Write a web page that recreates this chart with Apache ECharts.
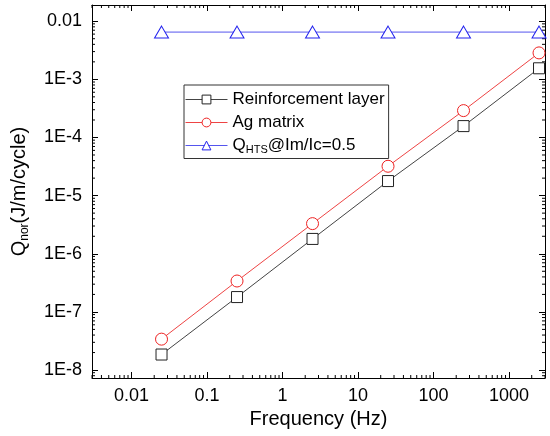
<!DOCTYPE html>
<html><head><meta charset="utf-8">
<script src="https://cdn.jsdelivr.net/npm/echarts@6/dist/echarts.min.js"></script>
<style>html,body{margin:0;padding:0;background:#fff}#c{width:550px;height:436px}</style>
</head><body><div id="c"></div>
<script>
const frequency = [0.025, 0.25, 2.5, 25, 250, 2500];
const reinforcementLayer = [1.85e-8, 1.8e-7, 1.8e-6, 1.78e-5, 1.57e-4, 1.55e-3];
const agMatrix = [3.4e-8, 3.4e-7, 3.3e-6, 3.2e-5, 2.9e-4, 2.85e-3];
const qHTS = [6.5e-3, 6.5e-3, 6.5e-3, 6.5e-3, 6.5e-3, 6.5e-3];
const xTickLabels = ['0.01', '0.1', '1', '10', '100', '1000'];
const yTickLabels = ['1E-8', '1E-7', '1E-6', '1E-5', '1E-4', '1E-3', '0.01'];
const X_MIN = 0.003, X_MAX = 3000, Y_MIN = 7.3e-9, Y_MAX = 0.019;

function minorTicks(lo, hi, d0, d1) {
  const out = [];
  for (let d = d0; d <= d1; d++) for (let k = 2; k <= 9; k++) {
    const v = Number((k * Math.pow(10, d)).toPrecision(6));
    if (v >= lo * 0.999 && v <= hi * 1.001) out.push(v);
  }
  return out;
}
const xMinor = minorTicks(X_MIN, X_MAX, -3, 3);
const yMinor = minorTicks(Y_MIN, Y_MAX, -9, -2);

function isPow10(v) { const l = Math.log10(v); return Math.abs(l - Math.round(l)) < 1e-6; }
function xLabel(v) { if (!isPow10(v)) return ''; const i = Math.round(Math.log10(v)) + 2; return xTickLabels[i] || ''; }
function yLabel(v) { if (!isPow10(v)) return ''; const i = Math.round(Math.log10(v)) + 8; return yTickLabels[i] || ''; }

const font = 'Liberation Sans, Arial, sans-serif';
const chart = echarts.init(document.getElementById('c'));
const tickStyle = { show: true, inside: true, length: 6, lineStyle: { color: '#000', width: 1 } };
const lineStyleAx = { show: true, lineStyle: { color: '#000', width: 1 } };

chart.setOption({
  animation: false,
  backgroundColor: '#fff',
  grid: { left: 92, right: 5, top: 5, bottom: 58 },
  legend: {
    data: ['Reinforcement layer', 'Ag matrix', 'QHTS'],
    orient: 'vertical', left: 184, top: 85,
    borderColor: '#333', borderWidth: 1, padding: [6, 4, 3, 1],
    itemWidth: 42, itemHeight: 11, itemGap: 6,
    itemStyle: { borderWidth: 1 }, lineStyle: { width: 1 },
    textStyle: { fontFamily: font, fontSize: 17, color: '#000',
      rich: { sub: { fontSize: 11, verticalAlign: 'bottom', padding: [9, 0, 0, 0], fontFamily: font, color: '#000' },
              n: { fontSize: 17, fontFamily: font, color: '#000' } } },
    formatter: function (name) { return name === 'QHTS' ? '{n|Q}{sub|HTS}{n|@Im/Ic=0.5}' : name; }
  },
  xAxis: [{
    type: 'log', logBase: 10, min: X_MIN, max: X_MAX, position: 'bottom',
    axisLine: lineStyleAx, axisTick: tickStyle, splitLine: { show: false },
    axisLabel: { formatter: xLabel, fontFamily: font, fontSize: 18, color: '#000', margin: 9 },
    name: 'Frequency (Hz)', nameLocation: 'middle', nameGap: 30,
    nameTextStyle: { fontFamily: font, fontSize: 20, color: '#000' }
  }, {
    type: 'log', logBase: 10, min: X_MIN, max: X_MAX, position: 'top',
    axisLine: lineStyleAx, axisTick: tickStyle, splitLine: { show: false }, axisLabel: { show: false }
  }],
  yAxis: [{
    type: 'log', logBase: 10, min: Y_MIN, max: Y_MAX, position: 'left',
    axisLine: lineStyleAx, axisTick: tickStyle, splitLine: { show: false },
    axisLabel: { formatter: yLabel, fontFamily: font, fontSize: 18, color: '#000', margin: 10 },
    name: '{n|Q}{sub|nor}{n|(J/m/cycle)}', nameLocation: 'middle', nameGap: 61,
    nameTextStyle: { fontFamily: font, fontSize: 20, color: '#000',
      rich: { n: { fontFamily: font, fontSize: 20, color: '#000' },
              sub: { fontFamily: font, fontSize: 12, color: '#000', verticalAlign: 'bottom', padding: [11, 0, 0, 0] } } }
  }, {
    type: 'log', logBase: 10, min: Y_MIN, max: Y_MAX, position: 'right',
    axisLine: lineStyleAx, axisTick: tickStyle, splitLine: { show: false }, axisLabel: { show: false }
  }],
  series: [
    { name: 'Reinforcement layer', type: 'line', data: frequency.map((f, i) => [f, reinforcementLayer[i]]),
      symbol: 'rect', symbolSize: 11, lineStyle: { color: '#444', width: 1 },
      itemStyle: { color: '#fff', borderColor: '#222', borderWidth: 1 } },
    { name: 'Ag matrix', type: 'line', data: frequency.map((f, i) => [f, agMatrix[i]]),
      symbol: 'circle', symbolSize: 12, lineStyle: { color: '#ee4444', width: 1 },
      itemStyle: { color: '#fff', borderColor: '#ee2222', borderWidth: 1 } },
    { name: 'QHTS', type: 'line', data: frequency.map((f, i) => [f, qHTS[i]]),
      symbol: 'triangle', symbolSize: [14, 12], lineStyle: { color: '#5555ee', width: 1 },
      itemStyle: { color: '#fff', borderColor: '#2222ee', borderWidth: 1 } },
    { type: 'custom', silent: true, data: xMinor.map(v => [v, Y_MIN]), clip: false, z: 1,
      renderItem: function (p, api) {
        const x = api.value(0);
        const b = api.coord([x, Y_MIN]), t = api.coord([x, Y_MAX]);
        return { type: 'group', children: [
          { type: 'line', shape: { x1: b[0], y1: b[1], x2: b[0], y2: b[1] - 3 }, style: { stroke: '#000', lineWidth: 1 } },
          { type: 'line', shape: { x1: t[0], y1: t[1], x2: t[0], y2: t[1] + 3 }, style: { stroke: '#000', lineWidth: 1 } }
        ] };
      } },
    { type: 'custom', silent: true, data: yMinor.map(v => [X_MIN, v]), clip: false, z: 1,
      renderItem: function (p, api) {
        const y = api.value(1);
        const l = api.coord([X_MIN, y]), r = api.coord([X_MAX, y]);
        return { type: 'group', children: [
          { type: 'line', shape: { x1: l[0], y1: l[1], x2: l[0] + 3, y2: l[1] }, style: { stroke: '#000', lineWidth: 1 } },
          { type: 'line', shape: { x1: r[0], y1: r[1], x2: r[0] - 3, y2: r[1] }, style: { stroke: '#000', lineWidth: 1 } }
        ] };
      } }
  ]
});
</script></body></html>
